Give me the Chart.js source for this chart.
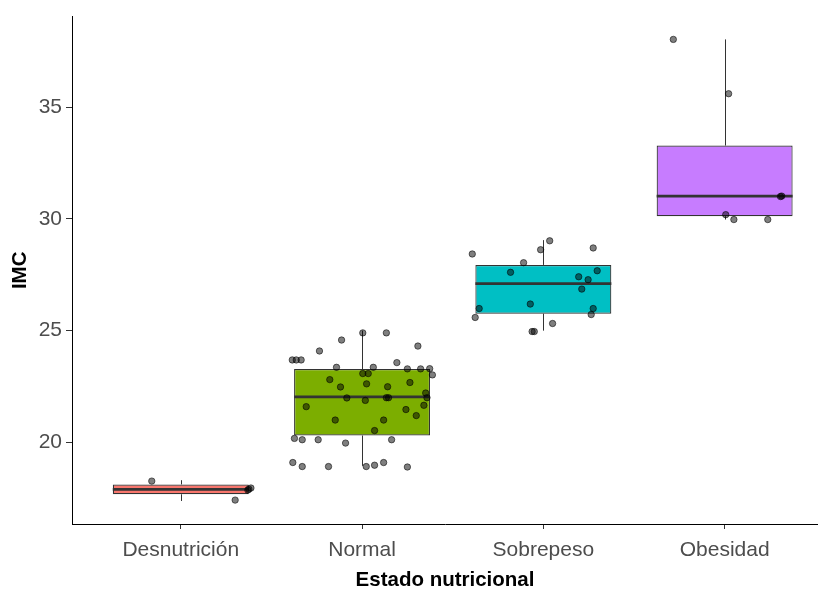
<!DOCTYPE html>
<html>
<head>
<meta charset="utf-8">
<script src="https://cdn.jsdelivr.net/npm/chart.js@4/dist/chart.umd.min.js"></script>
<style>
  html, body { margin: 0; padding: 0; background: #ffffff; }
  #wrap { width: 818px; height: 593px; position: relative; }
</style>
</head>
<body>
<div id="wrap"><canvas id="c" width="818" height="593"></canvas></div>
<script>
// ---- data ----
const categories = ['Desnutrición', 'Normal', 'Sobrepeso', 'Obesidad'];
const yTicks = [20, 25, 30, 35];
const boxQ1 = [17.68, 20.31, 25.76, 30.12];
const boxQ3 = [18.12, 23.28, 27.94, 33.28];
const medians = [17.90, 22.04, 27.10, 31.02];
const whiskerLow = [17.38, 18.95, 25.00, 29.97];
const whiskerHigh = [18.31, 25.00, 29.05, 38.03];
const boxColors = ['#F8766D', '#7CAE00', '#00BFC4', '#C77CFF'];

// jittered observations (IMC values and horizontal jitter offsets)
const desnutricionIMC = [18.27, 17.42, 17.91, 17.96, 17.87];
const desnutricionJitter = [-0.16, 0.30, 0.376, 0.387, 0.37];

const normalIMC = [24.90, 24.90, 24.58, 24.31, 24.09, 23.69, 23.69, 23.69, 23.57, 23.36,
  23.36, 23.29, 23.29, 23.30, 23.02, 23.08, 23.08, 22.81, 22.62, 22.68,
  22.48, 22.49, 21.99, 21.88, 22.00, 22.00, 22.21, 22.00, 21.66, 21.60,
  21.47, 21.20, 21.00, 21.00, 20.53, 20.18, 20.12, 20.12, 19.97, 20.12,
  19.10, 18.92, 18.92, 18.92, 18.98, 19.10, 18.90];
const normalJitter = [0.004, 0.134, -0.113, 0.308, -0.235, -0.385, -0.363, -0.336, 0.192, -0.141,
  0.062, 0.250, 0.323, 0.373, 0.388, 0.004, 0.034, -0.178, 0.025, 0.264,
  -0.119, 0.141, -0.084, 0.018, 0.134, 0.146, 0.351, 0.358, 0.341, -0.308,
  0.242, 0.299, -0.148, 0.119, 0.069, -0.373, -0.330, -0.242, -0.091, 0.163,
  -0.382, -0.330, -0.185, 0.023, 0.069, 0.119, 0.250];

const sobrepesoIMC = [28.43, 29.02, 28.62, 28.70, 28.04, 27.61, 27.68, 27.41, 27.28, 26.86,
  26.19, 25.99, 25.99, 25.59, 25.72, 25.32, 24.96, 24.96];
const sobrepesoJitter = [-0.392, 0.035, -0.015, 0.275, -0.109, -0.181, 0.297, 0.195, 0.247, 0.212,
  -0.072, -0.354, 0.275, -0.376, 0.264, 0.051, -0.062, -0.050];

const obesidadIMC = [38.03, 35.60, 31.00, 31.02, 30.19, 29.97, 29.97];
const obesidadJitter = [-0.283, 0.022, 0.308, 0.315, 0.006, 0.051, 0.238];

// ---- build library structures ----
const groups = [
  [desnutricionIMC, desnutricionJitter],
  [normalIMC, normalJitter],
  [sobrepesoIMC, sobrepesoJitter],
  [obesidadIMC, obesidadJitter]
];
const pointData = [];
groups.forEach((g, gi) => {
  g[0].forEach((v, i) => pointData.push({ x: gi + 1 + g[1][i], y: v }));
});
const boxData = categories.map((c, i) => ({ x: i + 1, y: [boxQ1[i], boxQ3[i]] }));

const LINE = '#333333';
const FONT = "'Liberation Sans', Arial, sans-serif";

const boxPlugin = {
  id: 'boxParts',
  beforeDatasetsDraw(chart) {
    const ctx = chart.ctx, xs = chart.scales.x, ys = chart.scales.y;
    ctx.save();
    ctx.strokeStyle = LINE;
    ctx.lineWidth = 1;
    categories.forEach((c, i) => {
      const px = Math.round(xs.getPixelForValue(i + 1)) + 0.5;
      ctx.beginPath();
      ctx.moveTo(px, ys.getPixelForValue(whiskerHigh[i]));
      ctx.lineTo(px, ys.getPixelForValue(boxQ3[i]));
      ctx.moveTo(px, ys.getPixelForValue(boxQ1[i]));
      ctx.lineTo(px, ys.getPixelForValue(whiskerLow[i]));
      ctx.stroke();
    });
    ctx.restore();
  },
  afterDatasetDraw(chart, args) {
    if (args.meta.type !== 'bar') return;
    const ctx = chart.ctx, ys = chart.scales.y;
    ctx.save();
    ctx.strokeStyle = LINE;
    ctx.lineWidth = 2.8;
    args.meta.data.forEach((el, i) => {
      const py = ys.getPixelForValue(medians[i]);
      ctx.beginPath();
      ctx.moveTo(el.x - el.width / 2, py);
      ctx.lineTo(el.x + el.width / 2, py);
      ctx.stroke();
    });
    ctx.restore();
  }
};

new Chart(document.getElementById('c'), {
  data: {
    datasets: [
      {
        type: 'scatter',
        data: pointData,
        backgroundColor: 'rgba(0,0,0,0.5)',
        borderColor: 'rgba(0,0,0,0.55)',
        borderWidth: 1,
        pointRadius: 3.2,
        clip: false
      },
      {
        type: 'bar',
        data: boxData,
        backgroundColor: boxColors,
        borderColor: LINE,
        borderWidth: 1.2,
        borderSkipped: false,
        barPercentage: 0.75,
        categoryPercentage: 1.0
      }
    ]
  },
  options: {
    responsive: false,
    animation: false,
    devicePixelRatio: 1,
    events: [],
    layout: { autoPadding: false, padding: { top: 14, right: 0, left: 0, bottom: 0 } },
    plugins: { legend: { display: false }, tooltip: { enabled: false } },
    scales: {
      x: {
        type: 'linear',
        offset: false,
        min: 0.4,
        max: 4.515,
        afterBuildTicks(s) { s.ticks = categories.map((c, i) => ({ value: i + 1 })); },
        afterFit(s) { s.height = 69; s.paddingLeft = 0; s.paddingRight = 0; },
        ticks: {
          callback: (v) => categories[v - 1],
          color: '#4D4D4D',
          font: { family: FONT, size: 21 },
          padding: 9,
          maxRotation: 0,
          autoSkip: false
        },
        grid: { offset: false, drawOnChartArea: false, drawTicks: true, tickLength: 5, color: LINE },
        border: { display: true, color: '#000000', width: 1 },
        title: {
          display: true,
          text: 'Estado nutricional',
          color: '#000000',
          font: { family: FONT, size: 20.5, weight: 'bold' },
          padding: { top: 0, bottom: 0 }
        }
      },
      y: {
        type: 'linear',
        min: 16.35,
        max: 39.05,
        afterBuildTicks(s) { s.ticks = yTicks.map(v => ({ value: v })); },
        afterFit(s) { s.width = 72; },
        ticks: {
          color: '#4D4D4D',
          font: { family: FONT, size: 21 },
          padding: 4
        },
        grid: { drawOnChartArea: false, drawTicks: true, tickLength: 6, color: LINE },
        border: { display: true, color: '#000000', width: 1 },
        title: {
          display: true,
          text: 'IMC',
          color: '#000000',
          font: { family: FONT, size: 20.5, weight: 'bold' },
          padding: { top: 8, bottom: 0 }
        }
      }
    }
  },
  plugins: [boxPlugin]
});
</script>
</body>
</html>
